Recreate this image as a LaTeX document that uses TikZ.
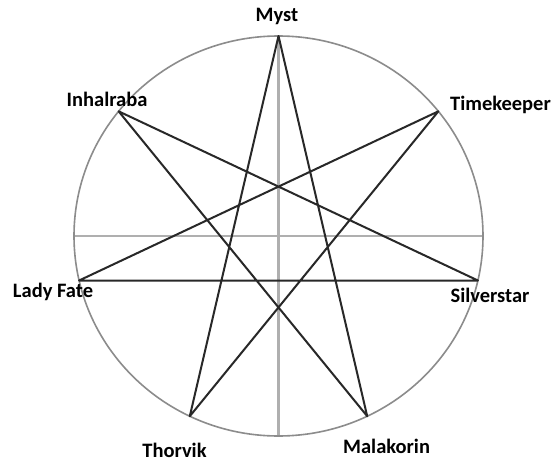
\documentclass[tikz,border=0pt]{standalone}
\usepackage{fontspec}
\setmainfont{Carlito}
\definecolor{ringgray}{RGB}{140,140,140}
\definecolor{crossgray}{RGB}{175,175,175}
\definecolor{stardark}{RGB}{40,40,40}
\begin{document}
\begin{tikzpicture}[x=1pt,y=-1pt,
  ring/.style={draw=ringgray,line width=1.6pt},
  crossline/.style={draw=crossgray,line width=2.4pt},
  starline/.style={draw=stardark,line width=2pt,line cap=round,line join=round},
  lbl/.style={font=\bfseries\fontsize{20.5}{22}\selectfont,anchor=base,inner sep=0pt}]
\useasboundingbox (0,0) rectangle (560,463);
\fill[white] (0,0) rectangle (560,463);
\coordinate (C) at (278.5,236);
\coordinate (top) at (278.5,36);
\coordinate (bot) at (278.5,436);
\coordinate (lft) at (74,236);
\coordinate (rgt) at (483,236);
\coordinate (myst) at (278.5,36);
\coordinate (time) at (438.4,111.3);
\coordinate (silv) at (477.9,280.5);
\coordinate (mala) at (367.2,416.2);
\coordinate (thor) at (189.8,416.2);
\coordinate (lady) at (79.1,280.5);
\coordinate (inha) at (118.6,111.3);
\draw[crossline] (lft) -- (rgt);
\draw[crossline] (top) -- (bot);
\draw[ring] (C) ellipse [x radius=204.5, y radius=200];
\draw[starline] (myst) -- (thor) -- (time) -- (lady) -- (silv) -- (inha) -- (mala) -- cycle;
\node[lbl] (tmyst) at (277,21.7) {Myst};
\node[lbl] (tinha) at (107,106) {Inhalraba};
\node[lbl] (ttime) at (500.5,110.7) {Timekeeper};
\node[lbl] (tlady) at (53,297) {Lady Fate};
\node[lbl] (tsilv) at (490,302.5) {Silverstar};
\node[lbl] (tthor) at (174.5,457.5) {Thorvik};
\node[lbl] (tmala) at (386.6,453.6) {Malakorin};
\end{tikzpicture}
\end{document}
